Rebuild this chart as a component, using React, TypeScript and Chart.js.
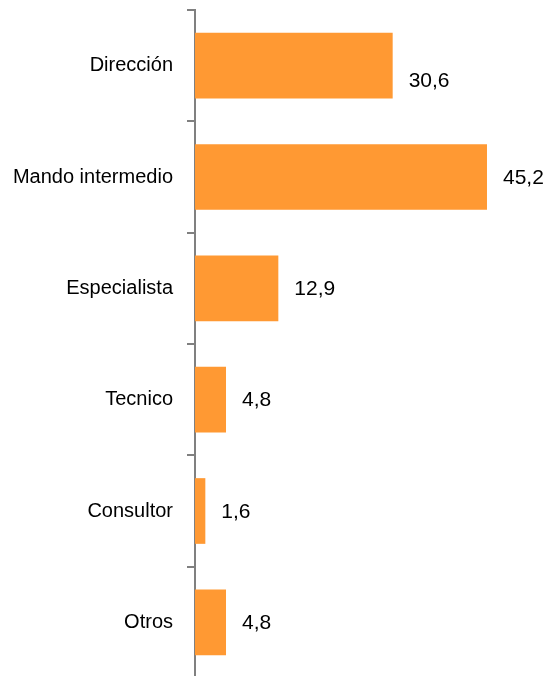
import React, { useEffect, useRef } from "react";
import { Chart, registerables } from "chart.js";

Chart.register(...registerables);

const categories = ["Dirección", "Mando intermedio", "Especialista", "Tecnico", "Consultor", "Otros"];
const values = [30.6, 45.2, 12.9, 4.8, 1.6, 4.8];
const valueLabels = ["30,6", "45,2", "12,9", "4,8", "1,6", "4,8"];

const BAR_COLOR = "#FF9933";
const AXIS_COLOR = "#808080";

const valueLabelPlugin = {
  id: "valueLabels",
  afterDatasetsDraw(chart: any) {
    const ctx = chart.ctx;
    const meta = chart.getDatasetMeta(0);
    ctx.save();
    ctx.font = '21px "Liberation Sans", Arial, sans-serif';
    ctx.fillStyle = "#000000";
    ctx.textAlign = "left";
    ctx.textBaseline = "middle";
    meta.data.forEach((bar: any, i: number) => {
      const dy = i === 0 ? 15 : 0;
      ctx.fillText(valueLabels[i], bar.x + 16, bar.y + dy + 1);
    });
    ctx.restore();
  },
};

export default function App() {
  const ref = useRef<HTMLCanvasElement | null>(null);
  useEffect(() => {
    if (!ref.current) return;
    const chart = new Chart(ref.current, {
      type: "bar",
      data: {
        labels: categories,
        datasets: [
          {
            data: values,
            backgroundColor: BAR_COLOR,
            borderWidth: 0,
            categoryPercentage: 1,
            barPercentage: 0.59,
          },
        ],
      },
      options: {
        indexAxis: "y",
        animation: false,
        responsive: false,
        maintainAspectRatio: false,
        layout: { padding: { top: 10, bottom: 12, left: 0, right: 30 } },
        plugins: { legend: { display: false }, tooltip: { enabled: false } },
        scales: {
          x: {
            display: false,
            min: 0,
            max: 50,
          },
          y: {
            afterFit(scale: any) {
              scale.width = 195;
              scale.paddingTop = 0;
              scale.paddingBottom = 0;
            },
            grid: {
              display: true,
              drawOnChartArea: false,
              drawTicks: true,
              tickLength: 8,
              color: AXIS_COLOR,
              lineWidth: 2,
              offset: true,
            },
            border: { display: true, color: AXIS_COLOR, width: 2 },
            ticks: {
              color: "#000000",
              padding: 14,
              font: { family: '"Liberation Sans", Arial, sans-serif', size: 20 },
            },
          },
        },
      },
      plugins: [valueLabelPlugin],
    });
    return () => chart.destroy();
  }, []);
  return (
    <div style={{ position: "fixed", top: 0, left: 0, width: 548, height: 676, overflow: "hidden", background: "#fff" }}>
      <canvas ref={ref} width={548} height={690} style={{ display: "block", width: 548, height: 690 }} />
    </div>
  );
}
